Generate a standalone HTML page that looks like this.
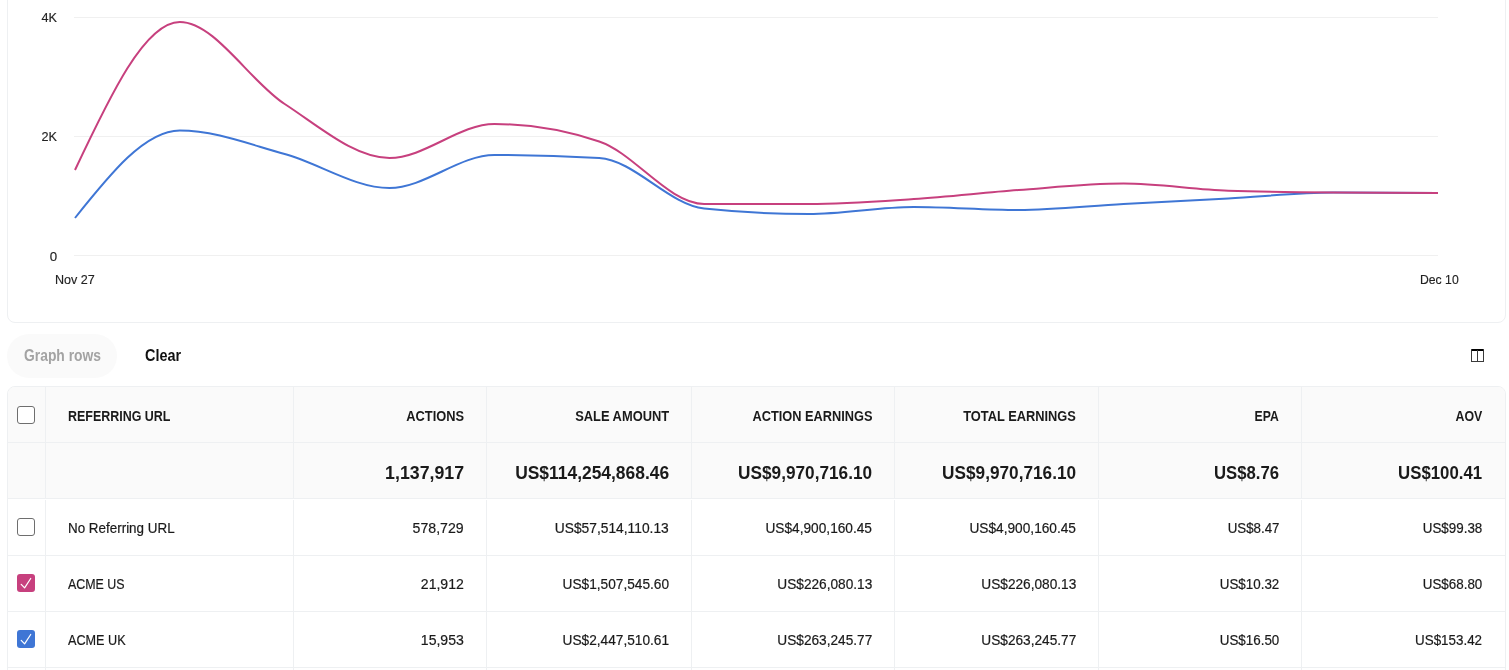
<!DOCTYPE html><html><head><meta charset="utf-8"><style>
*{box-sizing:border-box;margin:0;padding:0}
html,body{width:1509px;height:670px;overflow:hidden;background:#fff;font-family:"Liberation Sans",sans-serif;color:#1a1a1a}
body{will-change:transform}
.a{position:absolute}
.yl,.xl,.hd,.tt,.bd,.bt{position:absolute;white-space:nowrap}
.yl{font-size:13px;color:#222;line-height:15px;-webkit-text-stroke:0.15px #222}
.xl{font-size:13px;color:#222;line-height:15px;-webkit-text-stroke:0.15px #222}
.hd{font-size:14px;font-weight:bold;line-height:16px;color:#1a1a1a}
.tt{font-size:18px;font-weight:bold;line-height:20px;color:#1a1a1a}
.bd{font-size:14px;line-height:16px;color:#1a1a1a;-webkit-text-stroke:0.2px #1a1a1a}
.bt{font-size:16px;font-weight:bold;line-height:18px}
.cb{position:absolute;width:18px;height:18px;border-radius:3px}
</style></head><body>

<div class="a" style="left:7px;top:-20px;width:1499px;height:343px;border:1px solid #eef0f2;border-radius:8px"></div>
<svg class="a" style="left:0;top:0" width="1509" height="330" viewBox="0 0 1509 330"><line x1="74" y1="17.5" x2="1438" y2="17.5" stroke="#f0f0f0" stroke-width="1"/><line x1="74" y1="136.5" x2="1438" y2="136.5" stroke="#f0f0f0" stroke-width="1"/><line x1="74" y1="255.5" x2="1438" y2="255.5" stroke="#f0f0f0" stroke-width="1"/><path d="M75.0,218.0 C109.9,174.2 144.9,130.5 179.8,130.5 C214.8,130.5 249.7,144.4 284.7,154.0 C319.6,163.6 354.6,188.0 389.5,188.0 C424.5,188.0 459.4,155.0 494.4,155.0 C529.3,155.0 564.3,156.0 599.2,158.0 C634.2,160.0 669.1,204.8 704.1,208.5 C739.0,212.2 774.0,214.0 808.9,214.0 C843.9,214.0 878.8,207.0 913.8,207.0 C948.7,207.0 983.7,210.0 1018.6,210.0 C1053.6,210.0 1088.5,205.9 1123.5,204.0 C1158.4,202.1 1193.4,200.4 1228.3,198.5 C1263.3,196.6 1298.2,192.5 1333.2,192.5 C1368.1,192.5 1403.1,192.8 1438.0,193.0" fill="none" stroke="#3f76d5" stroke-width="2"/><path d="M75.0,170.0 C109.9,96.0 144.9,22.0 179.8,22.0 C214.8,22.0 249.7,81.3 284.7,104.0 C319.6,126.7 354.6,158.0 389.5,158.0 C424.5,158.0 459.4,124.0 494.4,124.0 C529.3,124.0 564.3,129.8 599.2,141.5 C634.2,153.2 669.1,204.0 704.1,204.0 C739.0,204.0 774.0,204.0 808.9,204.0 C843.9,204.0 878.8,201.3 913.8,199.0 C948.7,196.7 983.7,192.6 1018.6,190.0 C1053.6,187.4 1088.5,183.5 1123.5,183.5 C1158.4,183.5 1193.4,189.5 1228.3,190.7 C1263.3,191.9 1298.2,192.2 1333.2,192.5 C1368.1,192.8 1403.1,192.9 1438.0,193.0" fill="none" stroke="#c7407e" stroke-width="2"/></svg>
<div class="yl" style="right:1452px;top:10px;transform:scaleX(0.9745);transform-origin:right center;">4K</div>
<div class="yl" style="right:1452px;top:129px;transform:scaleX(0.9745);transform-origin:right center;">2K</div>
<div class="yl" style="right:1452px;top:249px;transform:scaleX(1.0229);transform-origin:right center;">0</div>
<div class="xl" style="left:54.5px;top:272px;transform:scaleX(0.9659);transform-origin:left center;">Nov 27</div>
<div class="xl" style="left:1420px;top:272px;transform:scaleX(0.9392);transform-origin:left center;">Dec 10</div>
<div class="a" style="left:7px;top:334px;width:110px;height:44px;border-radius:22px;background:#fafafa"></div>
<div class="bt" style="left:24px;top:346.5px;transform:scaleX(0.8661);transform-origin:left center;color:#a3a3a3;">Graph rows</div>
<div class="bt" style="left:145px;top:346.5px;transform:scaleX(0.8993);transform-origin:left center;color:#111;">Clear</div>
<div class="a" style="left:1471px;top:349px;width:13px;height:13px;border:1px solid #3a3a3a;border-top:2px solid #000;border-radius:1px 1px 0 0"></div>
<div class="a" style="left:1477px;top:350px;width:1px;height:12px;background:#3a3a3a"></div>
<div class="a" style="left:7px;top:386px;width:1499px;height:300px;border:1px solid #eef0f2;border-radius:8px;overflow:hidden">
<div class="a" style="left:0;top:0;width:1497px;height:112px;background:#fafafa"></div>
</div>
<div class="a" style="left:8px;top:442px;width:1497px;height:1px;background:#eef0f2"></div>
<div class="a" style="left:8px;top:498px;width:1497px;height:1px;background:#eef0f2"></div>
<div class="a" style="left:8px;top:555px;width:1497px;height:1px;background:#eef0f2"></div>
<div class="a" style="left:8px;top:611px;width:1497px;height:1px;background:#eef0f2"></div>
<div class="a" style="left:8px;top:667px;width:1497px;height:1px;background:#eef0f2"></div>
<div class="a" style="left:45px;top:387px;width:1px;height:111px;background:#eef0f2"></div>
<div class="a" style="left:45px;top:500px;width:1px;height:170px;background:#eef0f2"></div>
<div class="a" style="left:293px;top:387px;width:1px;height:111px;background:#eef0f2"></div>
<div class="a" style="left:293px;top:500px;width:1px;height:170px;background:#eef0f2"></div>
<div class="a" style="left:486px;top:387px;width:1px;height:111px;background:#eef0f2"></div>
<div class="a" style="left:486px;top:500px;width:1px;height:170px;background:#eef0f2"></div>
<div class="a" style="left:691px;top:387px;width:1px;height:111px;background:#eef0f2"></div>
<div class="a" style="left:691px;top:500px;width:1px;height:170px;background:#eef0f2"></div>
<div class="a" style="left:894px;top:387px;width:1px;height:111px;background:#eef0f2"></div>
<div class="a" style="left:894px;top:500px;width:1px;height:170px;background:#eef0f2"></div>
<div class="a" style="left:1098px;top:387px;width:1px;height:111px;background:#eef0f2"></div>
<div class="a" style="left:1098px;top:500px;width:1px;height:170px;background:#eef0f2"></div>
<div class="a" style="left:1301px;top:387px;width:1px;height:111px;background:#eef0f2"></div>
<div class="a" style="left:1301px;top:500px;width:1px;height:170px;background:#eef0f2"></div>
<div class="hd" style="left:68px;top:408px;transform:scaleX(0.8903);transform-origin:left center;">REFERRING URL</div>
<div class="hd" style="right:1045px;top:408px;transform:scaleX(0.9159);transform-origin:right center;">ACTIONS</div>
<div class="hd" style="right:840px;top:408px;transform:scaleX(0.9202);transform-origin:right center;">SALE AMOUNT</div>
<div class="hd" style="right:637px;top:408px;transform:scaleX(0.9129);transform-origin:right center;">ACTION EARNINGS</div>
<div class="hd" style="right:433px;top:408px;transform:scaleX(0.9170);transform-origin:right center;">TOTAL EARNINGS</div>
<div class="hd" style="right:230px;top:408px;transform:scaleX(0.8721);transform-origin:right center;">EPA</div>
<div class="hd" style="right:27px;top:408px;transform:scaleX(0.8832);transform-origin:right center;">AOV</div>
<div class="tt" style="right:1045px;top:463px;transform:scaleX(0.9865);transform-origin:right center;">1,137,917</div>
<div class="tt" style="right:840px;top:463px;transform:scaleX(0.9676);transform-origin:right center;">US$114,254,868.46</div>
<div class="tt" style="right:637px;top:463px;transform:scaleX(0.9563);transform-origin:right center;">US$9,970,716.10</div>
<div class="tt" style="right:433px;top:463px;transform:scaleX(0.9563);transform-origin:right center;">US$9,970,716.10</div>
<div class="tt" style="right:230px;top:463px;transform:scaleX(0.9277);transform-origin:right center;">US$8.76</div>
<div class="tt" style="right:27px;top:463px;transform:scaleX(0.9325);transform-origin:right center;">US$100.41</div>
<div class="bd" style="left:68px;top:520px;transform:scaleX(0.9581);transform-origin:left center;">No Referring URL</div>
<div class="bd" style="right:1045px;top:520px;transform:scaleX(1.0077);transform-origin:right center;">578,729</div>
<div class="bd" style="right:840px;top:520px;transform:scaleX(0.9850);transform-origin:right center;">US$57,514,110.13</div>
<div class="bd" style="right:637px;top:520px;transform:scaleX(0.9772);transform-origin:right center;">US$4,900,160.45</div>
<div class="bd" style="right:433px;top:520px;transform:scaleX(0.9772);transform-origin:right center;">US$4,900,160.45</div>
<div class="bd" style="right:230px;top:520px;transform:scaleX(0.9507);transform-origin:right center;">US$8.47</div>
<div class="bd" style="right:27px;top:520px;transform:scaleX(0.9553);transform-origin:right center;">US$99.38</div>
<div class="bd" style="left:68px;top:576px;transform:scaleX(0.8856);transform-origin:left center;">ACME US</div>
<div class="bd" style="right:1045px;top:576px;transform:scaleX(1.0040);transform-origin:right center;">21,912</div>
<div class="bd" style="right:840px;top:576px;transform:scaleX(0.9763);transform-origin:right center;">US$1,507,545.60</div>
<div class="bd" style="right:637px;top:576px;transform:scaleX(0.9762);transform-origin:right center;">US$226,080.13</div>
<div class="bd" style="right:433px;top:576px;transform:scaleX(0.9762);transform-origin:right center;">US$226,080.13</div>
<div class="bd" style="right:230px;top:576px;transform:scaleX(0.9553);transform-origin:right center;">US$10.32</div>
<div class="bd" style="right:27px;top:576px;transform:scaleX(0.9553);transform-origin:right center;">US$68.80</div>
<div class="bd" style="left:68px;top:632px;transform:scaleX(0.9029);transform-origin:left center;">ACME UK</div>
<div class="bd" style="right:1045px;top:632px;transform:scaleX(1.0040);transform-origin:right center;">15,953</div>
<div class="bd" style="right:840px;top:632px;transform:scaleX(0.9763);transform-origin:right center;">US$2,447,510.61</div>
<div class="bd" style="right:637px;top:632px;transform:scaleX(0.9762);transform-origin:right center;">US$263,245.77</div>
<div class="bd" style="right:433px;top:632px;transform:scaleX(0.9762);transform-origin:right center;">US$263,245.77</div>
<div class="bd" style="right:230px;top:632px;transform:scaleX(0.9553);transform-origin:right center;">US$16.50</div>
<div class="bd" style="right:27px;top:632px;transform:scaleX(0.9563);transform-origin:right center;">US$153.42</div>
<div class="cb" style="left:17px;top:406px;border:1.5px solid #6e6e6e;background:#fff"></div>
<div class="cb" style="left:17px;top:518px;border:1.5px solid #6e6e6e;background:#fff"></div>
<div class="cb" style="left:17px;top:574px;background:#c7407e"><svg width="18" height="18" viewBox="0 0 18 18" style="position:absolute;left:0;top:0"><path d="M4.2,10.4 L7.6,13.9 L13.7,4.5" fill="none" stroke="#fff" stroke-width="1.2" stroke-linecap="round" stroke-linejoin="round"/></svg></div>
<div class="cb" style="left:17px;top:630px;background:#3f76d5"><svg width="18" height="18" viewBox="0 0 18 18" style="position:absolute;left:0;top:0"><path d="M4.2,10.4 L7.6,13.9 L13.7,4.5" fill="none" stroke="#fff" stroke-width="1.2" stroke-linecap="round" stroke-linejoin="round"/></svg></div>
</body></html>
